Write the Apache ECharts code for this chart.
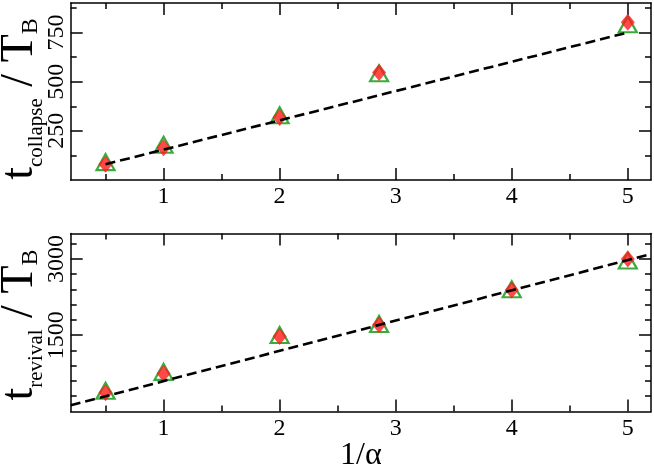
<!DOCTYPE html>
<html><head><meta charset="utf-8">
<script src="https://cdn.jsdelivr.net/npm/echarts@6/dist/echarts.min.js"></script>
</head>
<body style="margin:0;background:#fff">
<div id="c" style="width:654px;height:465px"></div>
<script>
// ---- data ----
const xCollapse = [0.5, 1, 2, 2.857, 5];
const collapseTri = [91, 179, 329, 543, 792];
const collapseDia = [80, 164, 318, 546, 802];
const collapseFitX = [0.5, 5];
const collapseFitY = [80, 750];

const xRevival = [0.5, 1, 2, 2.857, 4, 5];
const revivalTri = [407, 779, 1503, 1722, 2403, 2968];
const revivalDia = [368, 747, 1477, 1706, 2390, 2997];
const revivalFitX = [0.2, 5.2];
const revivalFitY = [121, 3096];

const xMajorTicks = [1, 2, 3, 4, 5];
const xMinorTicks = [0.5, 1.5, 2.5, 3.5, 4.5];
const yTopMajorTicks = [250, 500, 750];
const yTopMinorTicks = [125, 375, 625, 875];
const yBotMajorTicks = [1500, 3000];
const yBotMinorTicks = [300, 600, 900, 1200, 1800, 2100, 2400, 2700, 3300];

// ---- helpers ----
const SERIF = '"Liberation Serif", serif';
const BLACK = '#000';
function axis(g, pos, min, max, ticks, len, showLine, labels, extra) {
  const a = {
    gridIndex: g, type: 'value', position: pos, min: min, max: max,
    splitLine: { show: false },
    axisLine: { show: showLine, onZero: false, lineStyle: { color: BLACK, width: 1.5 } },
    axisTick: { show: true, inside: true, length: len, customValues: ticks, lineStyle: { color: BLACK, width: 1.5 } },
    axisLabel: labels ? {
      show: true, customValues: labels, color: BLACK, fontFamily: SERIF, fontSize: 24,
      margin: 5, formatter: v => String(v)
    } : { show: false }
  };
  return Object.assign(a, extra || {});
}
function pairs(xs, ys) { return xs.map((x, i) => [x, ys[i]]); }

const GREEN = '#0a960a';
const RED = '#ff1a1a';

const xAxes = [], yAxes = [];
[0, 1].forEach(g => {
  xAxes.push(axis(g, 'bottom', 0.2, 5.2, xMajorTicks, 12, true, xMajorTicks,
    g === 1 ? { name: '1/α', nameLocation: 'middle', nameGap: 28, nameMoveOverlap: false,
      nameTextStyle: { fontFamily: SERIF, fontSize: 32, color: BLACK, verticalAlign: 'top' } } : {}));
  xAxes.push(axis(g, 'bottom', 0.2, 5.2, xMinorTicks, 6, false, null));
  xAxes.push(axis(g, 'top', 0.2, 5.2, xMajorTicks, 12, true, null));
  xAxes.push(axis(g, 'top', 0.2, 5.2, xMinorTicks, 6, false, null));
});
function yName(sub, shift) {
  return {
    name: '{a|t}{s|' + sub + '}{a| / T}{b|B}', nameLocation: 'middle', nameRotate: 90, nameGap: 24,
    nameMoveOverlap: false,
    nameTextStyle: {
      color: BLACK, fontFamily: SERIF, padding: [0, shift, 0, 0],
      rich: {
        a: { fontFamily: SERIF, fontSize: 46, color: BLACK, verticalAlign: 'bottom', padding: [0, 0, 4, 0] },
        s: { fontFamily: SERIF, fontSize: 21, color: BLACK, verticalAlign: 'bottom' },
        b: { fontFamily: SERIF, fontSize: 24, color: BLACK, verticalAlign: 'bottom', padding: [0, 0, 4, 0] }
      }
    }
  };
}
const yRanges = [[0, 900, yTopMajorTicks, yTopMinorTicks, 'collapse', 15], [0, 3500, yBotMajorTicks, yBotMinorTicks, 'revival', 5]];
yRanges.forEach((r, g) => {
  const main = axis(g, 'left', r[0], r[1], r[2], 12, true, r[2], yName(r[4], r[5]));
  main.axisLabel.rotate = 90;
  main.axisLabel.margin = 2;
  yAxes.push(main);
  yAxes.push(axis(g, 'left', r[0], r[1], r[3], 6, false, null));
  yAxes.push(axis(g, 'right', r[0], r[1], r[2], 12, true, null));
  yAxes.push(axis(g, 'right', r[0], r[1], r[3], 6, false, null));
});

function triSeries(g, data) {
  return { type: 'scatter', xAxisIndex: g * 4, yAxisIndex: g * 4, data: data, symbol: 'triangle',
    symbolSize: [18, 16], itemStyle: { color: 'rgba(0,0,0,0)', borderColor: GREEN, borderWidth: 2.2 }, z: 2 };
}
function diaSeries(g, data) {
  return { type: 'scatter', xAxisIndex: g * 4, yAxisIndex: g * 4, data: data, symbol: 'diamond',
    symbolSize: [14, 17], z: 3, itemStyle: { color: RED } };
}
function fitSeries(g, data) {
  return { type: 'line', xAxisIndex: g * 4, yAxisIndex: g * 4, data: data, symbol: 'none',
    lineStyle: { color: BLACK, width: 2.6, type: [10, 5] }, z: 4, silent: true };
}

const gridBase = { left: 70.7, right: 3, containLabel: false, outerBoundsMode: 'none' };
const option = {
  animation: false,
  backgroundColor: '#fff',
  grid: [
    Object.assign({ top: 3, height: 177 }, gridBase),
    Object.assign({ top: 233.5, height: 178 }, gridBase)
  ],
  xAxis: xAxes,
  yAxis: yAxes,
  series: [
    triSeries(0, pairs(xCollapse, collapseTri)),
    diaSeries(0, pairs(xCollapse, collapseDia)),
    fitSeries(0, pairs(collapseFitX, collapseFitY)),
    triSeries(1, pairs(xRevival, revivalTri)),
    diaSeries(1, pairs(xRevival, revivalDia)),
    fitSeries(1, pairs(revivalFitX, revivalFitY))
  ]
};
const chart = echarts.init(document.getElementById('c'), null, { renderer: 'canvas' });
chart.setOption(option);
</script>
</body></html>
